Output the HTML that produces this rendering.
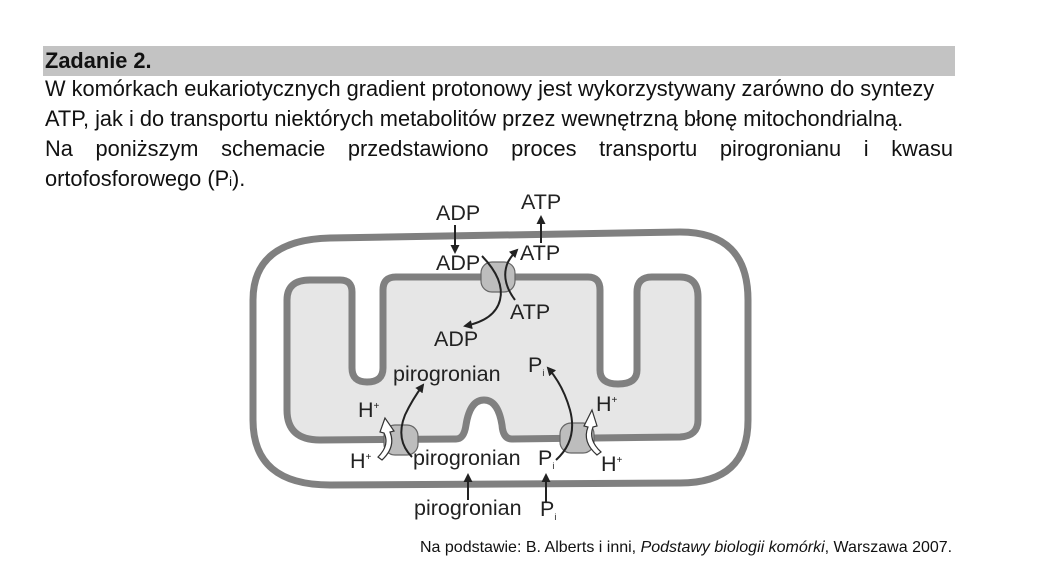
<!DOCTYPE html>
<html><head><meta charset="utf-8"><style>
body{margin:0;width:1038px;height:567px;background:#fff;font-family:"Liberation Sans",Arial,sans-serif;color:#111;position:relative;overflow:hidden}
.bar{position:absolute;left:43px;top:46px;width:912px;height:30px;background:#c3c3c3}
.t{position:absolute;left:45px;font-size:21.8px;white-space:nowrap}
svg{position:absolute;left:0;top:0}
</style></head><body>
<div class="bar"></div>
<div class="t" style="top:48px;font-weight:bold">Zadanie 2.</div>
<div class="t" style="top:76px">W komórkach eukariotycznych gradient protonowy jest wykorzystywany zarówno do syntezy</div>
<div class="t" style="top:106px">ATP, jak i do transportu niektórych metabolitów przez wewnętrzną błonę mitochondrialną.</div>
<div class="t" style="top:136px;width:908px;text-align:justify;text-align-last:justify">Na poniższym schemacie przedstawiono proces transportu pirogronianu i kwasu</div>
<div class="t" style="top:166px">ortofosforowego (P<span style="font-size:13px">i</span>).</div>
<div class="t" style="top:539px;left:420px;font-size:16px">Na podstawie: B. Alberts i inni, <i>Podstawy biologii komórki</i>, Warszawa 2007.</div>
<svg width="1038" height="567" font-family="Liberation Sans,Arial,sans-serif" font-size="21.5" fill="#222">
<defs><marker id="a" markerWidth="9" markerHeight="9" refX="7" refY="4.5" orient="auto" markerUnits="userSpaceOnUse"><path d="M0,0 L9,4.5 L0,9 Z" fill="#222"/></marker></defs>
<path d="M253,300 Q253,240 330,238 L680,232 Q748,232 748,300 L748,420 Q748,483 680,483 L330,485 Q253,485 253,420 Z" fill="#fff" stroke="#808080" stroke-width="7"/>
<path d="M287,300 Q287,280 310,280 L340,280 Q352,280 352,292 L352,368 Q352,382 367,382 Q383,382 383,368 L383,290 Q383,277 396,277 L588,277 Q600,277 600,290 L600,370 Q600,384 618,384 Q637,384 637,370 L637,292 Q637,277 652,277 L680,277 Q698,277 698,297 L698,420 Q698,436 680,437 L512,439 Q503,439 502,425 Q498,400 484,400 Q470,400 466,425 Q464,439 456,439 L320,440 Q287,440 287,410 Z" fill="#e6e6e6" stroke="#808080" stroke-width="7"/>
<g fill="#bdbdbd" stroke="#666" stroke-width="1.2">
<rect x="481" y="262" width="34" height="30" rx="11"/>
<rect x="384" y="425" width="34" height="30" rx="11"/>
<rect x="560" y="423" width="34" height="30" rx="11"/>
</g>
<g stroke="#222" stroke-width="2" fill="none" marker-end="url(#a)">
<line x1="455" y1="225" x2="455" y2="252"/>
<line x1="541" y1="243" x2="541" y2="217"/>
<path d="M482,256 Q505,280 500,300 Q495,320 465,326"/>
<path d="M515,300 Q500,280 508,262 Q512,255 517,250"/>
<path d="M412,457 Q395,440 405,415 Q412,400 423,385"/>
<path d="M556,460 Q578,440 570,410 Q563,385 548,368"/>
<line x1="468" y1="500" x2="468" y2="475"/>
<line x1="546" y1="502" x2="546" y2="475"/>
</g>
<g fill="#fff" stroke="#333" stroke-width="1.2">
<path d="M385,418 L380,432 L384,433 Q390,445 378,457 L382,460 Q396,447 390,432 L394,431 Z"/>
<path d="M592,410 L597,426 L593,427 Q588,440 601,452 L597,455 Q582,442 588,427 L584,426 Z"/>
</g>
<text x="436" y="220">ADP</text>
<text x="521" y="209">ATP</text>
<text x="436" y="270">ADP</text>
<text x="520" y="260">ATP</text>
<text x="510" y="319">ATP</text>
<text x="434" y="346">ADP</text>
<text x="393" y="381">pirogronian</text>
<text x="528" y="372">P<tspan font-size="9" dy="4">i</tspan></text>
<text x="358" y="417">H<tspan font-size="10" dy="-8">+</tspan></text>
<text x="350" y="468">H<tspan font-size="10" dy="-8">+</tspan></text>
<text x="413" y="465">pirogronian</text>
<text x="538" y="465">P<tspan font-size="9" dy="4">i</tspan></text>
<text x="596" y="411">H<tspan font-size="10" dy="-8">+</tspan></text>
<text x="601" y="471">H<tspan font-size="10" dy="-8">+</tspan></text>
<text x="414" y="515">pirogronian</text>
<text x="540" y="516">P<tspan font-size="9" dy="4">i</tspan></text>
</svg>
</body></html>
